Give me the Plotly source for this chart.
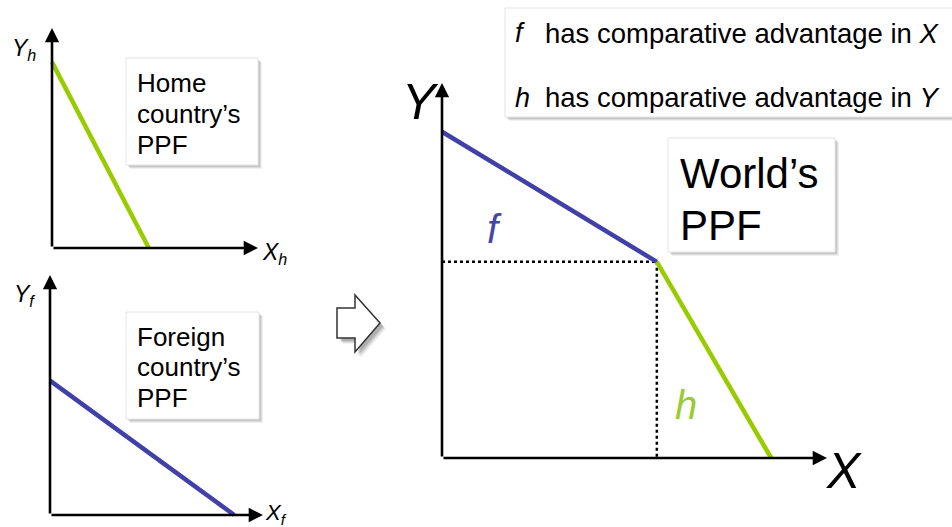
import plotly.graph_objects as go

# ---------------- data ----------------
home_x = [0, 4.7]
home_y = [8.45, 0]
foreign_x = [0, 8.65]
foreign_y = [5.6, 0]
world_f_x = [0, 5.58]
world_f_y = [8.7, 5.23]
world_h_x = [5.58, 8.55]
world_h_y = [5.23, 0]
kink_x = 5.58
kink_y = 5.23
axis_max = 10

GREEN = "#99CC00"
BLUE = "#4040A8"
FONT = "Liberation Sans, Arial, sans-serif"
W, H = 952, 527


def px(x):
    return x / W


def py(y):
    return 1 - y / H


fig = go.Figure()


def set_axes(idx, origin, tip):
    ox, oy = origin
    tx, ty = tip
    pad = 0.5
    ux = (tx - ox) / axis_max
    uy = (oy - ty) / axis_max
    xd = [px(ox - pad * ux), px(tx + pad * ux)]
    yd = [py(oy + pad * uy), py(ty - pad * uy)]
    sfx = "" if idx == 1 else str(idx)
    common = dict(visible=False, showgrid=False, zeroline=False, fixedrange=True)
    fig.layout["xaxis" + sfx] = dict(domain=xd, range=[-pad, axis_max + pad],
                                     anchor="y" + sfx, **common)
    fig.layout["yaxis" + sfx] = dict(domain=yd, range=[-pad, axis_max + pad],
                                     anchor="x" + sfx, **common)
    return "x" + sfx, "y" + sfx


ax1 = set_axes(1, (52, 248), (258, 28))
ax2 = set_axes(2, (50, 515), (263, 275))
ax3 = set_axes(3, (442, 458), (827, 83))

annotations = []


def axis_arrows(axes):
    xr, yr = axes
    for (x, y) in [(axis_max, 0), (0, axis_max)]:
        annotations.append(dict(x=x, y=y, ax=0, ay=0, xref=xr, yref=yr,
                                axref=xr, ayref=yr, text="", showarrow=True,
                                arrowhead=2, arrowsize=1.1, arrowwidth=2.6,
                                arrowcolor="black", standoff=0, startstandoff=0))


for a in (ax1, ax2, ax3):
    axis_arrows(a)

# PPF lines
fig.add_trace(go.Scatter(x=home_x, y=home_y, mode="lines", xaxis="x", yaxis="y",
                         line=dict(color=GREEN, width=4.5), hoverinfo="skip"))
fig.add_trace(go.Scatter(x=foreign_x, y=foreign_y, mode="lines", xaxis="x2", yaxis="y2",
                         line=dict(color=BLUE, width=4.5), hoverinfo="skip"))
fig.add_trace(go.Scatter(x=[0, kink_x], y=[kink_y, kink_y], mode="lines", xaxis="x3", yaxis="y3",
                         line=dict(color="black", width=2.5, dash="dot"), hoverinfo="skip"))
fig.add_trace(go.Scatter(x=[kink_x, kink_x], y=[kink_y, 0], mode="lines", xaxis="x3", yaxis="y3",
                         line=dict(color="black", width=2.5, dash="dot"), hoverinfo="skip"))
fig.add_trace(go.Scatter(x=world_f_x, y=world_f_y, mode="lines", xaxis="x3", yaxis="y3",
                         line=dict(color=BLUE, width=4.5), hoverinfo="skip"))
fig.add_trace(go.Scatter(x=world_h_x, y=world_h_y, mode="lines", xaxis="x3", yaxis="y3",
                         line=dict(color=GREEN, width=4.5), hoverinfo="skip"))

shapes = []


def shadow_box(x0, y0, x1, y1):
    for off, alpha in [(4, 0.06), (3, 0.08), (2, 0.10)]:
        shapes.append(dict(type="rect", xref="paper", yref="paper",
                           x0=px(x0 + off), x1=px(x1 + off), y0=py(y1 + off), y1=py(y0 + off),
                           fillcolor=f"rgba(0,0,0,{alpha})", line=dict(width=0), layer="below"))
    shapes.append(dict(type="rect", xref="paper", yref="paper",
                       x0=px(x0), x1=px(x1), y0=py(y1), y1=py(y0),
                       fillcolor="white", line=dict(color="#e4e4e4", width=1), layer="below"))


shadow_box(126, 58, 258, 165)
shadow_box(126, 312, 259, 419)
shadow_box(668, 138, 835, 252)
shadow_box(505, 8, 960, 117)

# hollow block arrow
pts = [(337, 308), (355, 308), (355, 295), (380, 323), (355, 352), (355, 338), (337, 338)]


def path(points, dx=0, dy=0):
    s = "M " + " L ".join(f"{px(x + dx):.5f},{py(y + dy):.5f}" for x, y in points) + " Z"
    return s


for off, alpha in [(6, 0.05), (5, 0.08), (4, 0.10), (3, 0.12)]:
    shapes.append(dict(type="path", xref="paper", yref="paper", path=path(pts, off, off),
                       fillcolor=f"rgba(0,0,0,{alpha})", line=dict(width=0)))
shapes.append(dict(type="path", xref="paper", yref="paper", path=path(pts),
                   fillcolor="white", line=dict(color="#333333", width=1.5)))


def text(t, x, y, size, color="black", xanchor="left"):
    annotations.append(dict(text=t, x=px(x), y=py(y), xref="paper", yref="paper",
                            xanchor=xanchor, yanchor="middle", showarrow=False,
                            font=dict(family=FONT, size=size, color=color)))


# box texts
for t, y in [("Home", 83), ("country’s", 114), ("PPF", 145)]:
    text(t, 135, y, 26)
for t, y in [("Foreign", 337), ("country’s", 367), ("PPF", 398)]:
    text(t, 135, y, 26)
for t, y in [("World’s", 173), ("PPF", 225)]:
    text(t, 678, y, 42)

# legend box
text("<i>f</i>", 513, 33, 27)
text("has comparative advantage in <i>X</i>", 543, 33, 27.5)
text("<i>h</i>", 513, 98, 27)
text("has comparative advantage in <i>Y</i>", 543, 98, 27.5)

# axis labels
text("<i>Y</i><sub><i>h</i></sub>", 10, 49, 23)
text("<i>X</i><sub><i>h</i></sub>", 260, 253, 23)
text("<i>Y</i><sub><i>f</i></sub>", 12, 295, 23)
text("<i>X</i><sub><i>f</i></sub>", 263, 514, 22)
text("<i>Y</i>", 400, 102, 50)
text("<i>X</i>", 824, 471, 50)

# segment labels
text("<i>f</i>", 494, 229, 40, color="#4646AA", xanchor="center")
text("<i>h</i>", 686, 405, 40, color="#99CC33", xanchor="center")

fig.update_layout(width=W, height=H, margin=dict(l=0, r=0, t=0, b=0),
                  paper_bgcolor="white", plot_bgcolor="rgba(0,0,0,0)",
                  showlegend=False, shapes=shapes, annotations=annotations)

fig.write_html("out.html", config={"displayModeBar": False},
               post_script="document.body.style.margin='0px';document.body.style.overflow='hidden';")
